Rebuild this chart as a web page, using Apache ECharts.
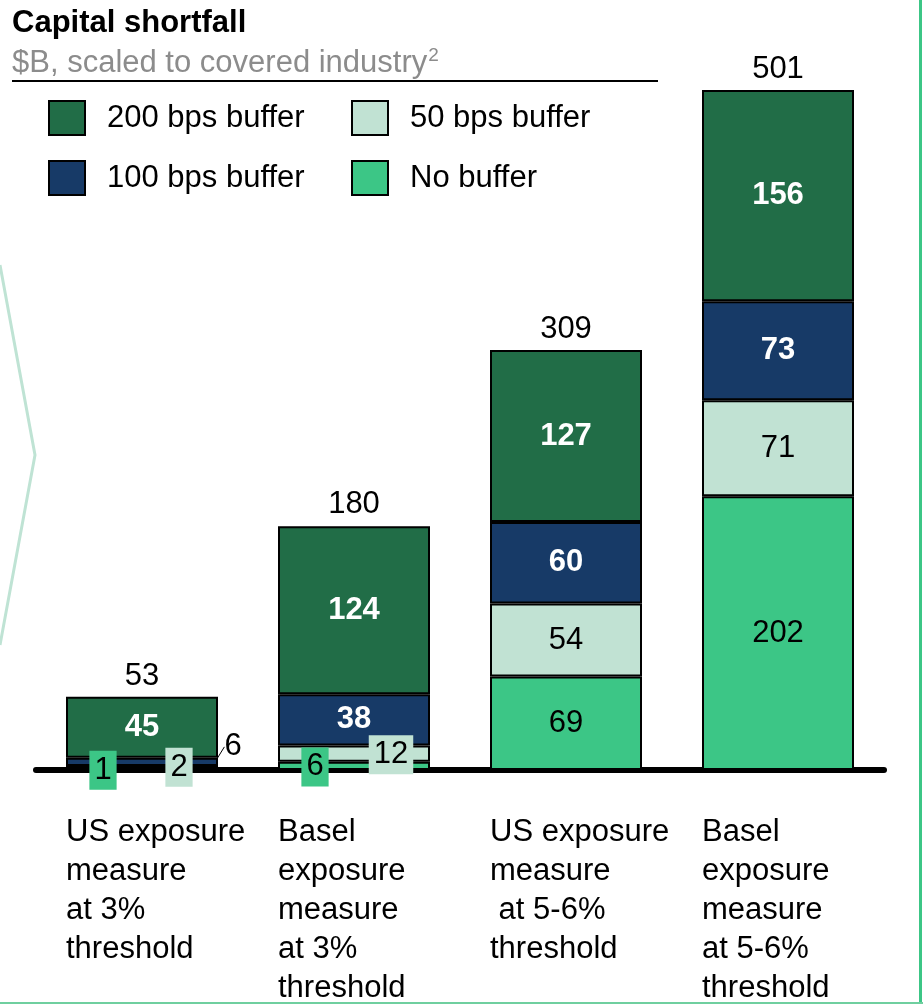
<!DOCTYPE html>
<html>
<head>
<meta charset="utf-8">
<script src="https://cdn.jsdelivr.net/npm/echarts@6/dist/echarts.min.js"></script>
<style>
  html, body { margin: 0; padding: 0; background: #fff; }
  #chart { width: 923px; height: 1004px; }
</style>
</head>
<body>
<div id="chart"></div>
<script>
// data
const categories = [
  'US exposure\nmeasure\nat 3%\nthreshold',
  'Basel\nexposure\nmeasure\nat 3%\nthreshold',
  'US exposure\nmeasure\n at 5-6%\nthreshold',
  'Basel\nexposure\nmeasure\nat 5-6%\nthreshold'
];
const noBuffer = [1, 6, 69, 202];
const bps50 = [2, 12, 54, 71];
const bps100 = [6, 38, 60, 73];
const bps200 = [45, 124, 127, 156];
const totals = [53, 180, 309, 501];

const FONT = '"Liberation Sans", Arial, sans-serif';
const FS = 31;
const C_200 = '#216d47';
const C_100 = '#173a67';
const C_50 = '#c1e2d3';
const C_NO = '#3cc686';

const chart = echarts.init(document.getElementById('chart'), null, {renderer: 'canvas'});

// tiny segments get their labels moved into small tags
const boxPad = [4, 5, 4, 5];
const noBufferLabels = {
  0: {offset: [-39, 1], backgroundColor: C_NO, padding: boxPad},
  1: {offset: [-39, 1], backgroundColor: C_NO, padding: boxPad}
};
const bps50Labels = {
  0: {offset: [37, 0], backgroundColor: C_50, padding: boxPad},
  1: {offset: [37, 1], backgroundColor: C_50, padding: boxPad}
};

function withLabels(values, overrides) {
  return values.map((v, i) => overrides && overrides[i] ? {value: v, label: overrides[i]} : v);
}

function bar(name, values, color, dark, extra) {
  return Object.assign({
    type: 'bar',
    name: name,
    stack: 'total',
    barWidth: 152,
    data: values,
    emphasis: {disabled: true},
    itemStyle: {color: color, borderColor: '#000', borderWidth: 2, opacity: 1},
    label: {
      show: true,
      position: 'inside',
      fontFamily: FONT,
      fontSize: FS,
      color: dark ? '#fff' : '#000',
      fontWeight: dark ? 'bold' : 'normal'
    }
  }, extra || {});
}

const legendCommon = {
  orient: 'vertical',
  top: 100,
  padding: 0,
  itemWidth: 36,
  itemHeight: 34,
  itemGap: 24,
  icon: 'rect',
  selectedMode: false,
  itemStyle: {borderColor: '#000', borderWidth: 2},
  textStyle: {fontFamily: FONT, fontSize: FS, color: '#000', lineHeight: 34, padding: [0, 0, 0, 17]}
};

const option = {
  animation: false,
  textStyle: {fontFamily: FONT},
  title: [
    {
      text: 'Capital shortfall',
      left: 12, top: 6, padding: 0,
      textStyle: {fontFamily: FONT, fontSize: 31, fontWeight: 'bold', color: '#000', lineHeight: 34}
    },
    {
      text: '{a|$B, scaled to covered industry}{sup|2}',
      left: 12, top: 46, padding: 0,
      textStyle: {
        fontWeight: 'normal',
        rich: {
          a: {fontFamily: FONT, fontSize: FS, fontWeight: 'normal', color: '#8c8c8c', lineHeight: 34},
          sup: {fontFamily: FONT, fontSize: 19, fontWeight: 'normal', color: '#8c8c8c', padding: [0, 0, 14, 1]}
        }
      }
    }
  ],
  legend: [
    Object.assign({}, legendCommon, {left: 48, data: ['200 bps buffer', '100 bps buffer']}),
    Object.assign({}, legendCommon, {left: 351, data: ['50 bps buffer', 'No buffer']})
  ],
  grid: {left: 36, right: 39, top: 90, bottom: 234, containLabel: false},
  xAxis: {
    type: 'category',
    data: categories,
    axisLine: {lineStyle: {color: '#000', width: 6}},
    axisTick: {show: false},
    axisLabel: {
      interval: 0,
      margin: 43,
      align: 'center',
      formatter: v => v.split('\n').map(l => '{a|' + l + '}').join('\n'),
      rich: {
        a: {width: 152, align: 'left', fontFamily: FONT, fontSize: FS, lineHeight: 39, color: '#000'}
      }
    }
  },
  yAxis: {type: 'value', min: 0, max: 502, show: false},
  series: [
    bar('No buffer', withLabels(noBuffer, noBufferLabels), C_NO, false),
    bar('50 bps buffer', withLabels(bps50, bps50Labels), C_50, false),
    bar('100 bps buffer', withLabels(bps100, {0: {color: '#000', fontWeight: 'normal'}}), C_100, true, {
      labelLine: {show: true, lineStyle: {color: '#000', width: 1}},
      labelLayout: p => p.dataIndex === 0 ? {dx: 91, dy: -15} : null
    }),
    bar('200 bps buffer', bps200, C_200, true),
    {
      // totals on top of the stacks
      type: 'scatter',
      data: totals,
      symbolSize: 0,
      z: 5,
      itemStyle: {opacity: 1},
      emphasis: {disabled: true},
      label: {
        show: true,
        position: 'top',
        distance: 6,
        formatter: p => String(totals[p.dataIndex]),
        fontFamily: FONT,
        fontSize: FS,
        color: '#000',
        opacity: 1
      }
    }
  ],
  graphic: [
    {type: 'line', shape: {x1: 12, y1: 81, x2: 658, y2: 81}, style: {stroke: '#000', lineWidth: 2}},
    {type: 'polyline', shape: {points: [[0, 265], [35, 455], [0, 645]]}, style: {stroke: '#bfe3d4', lineWidth: 3, fill: null}},
    {type: 'line', shape: {x1: 920.5, y1: 0, x2: 920.5, y2: 1004}, style: {stroke: '#3cc686', lineWidth: 3}},
    {type: 'line', shape: {x1: 0, y1: 1003, x2: 923, y2: 1003}, style: {stroke: '#6fcf9f', lineWidth: 2}}
  ]
};

chart.setOption(option);
</script>
</body>
</html>
